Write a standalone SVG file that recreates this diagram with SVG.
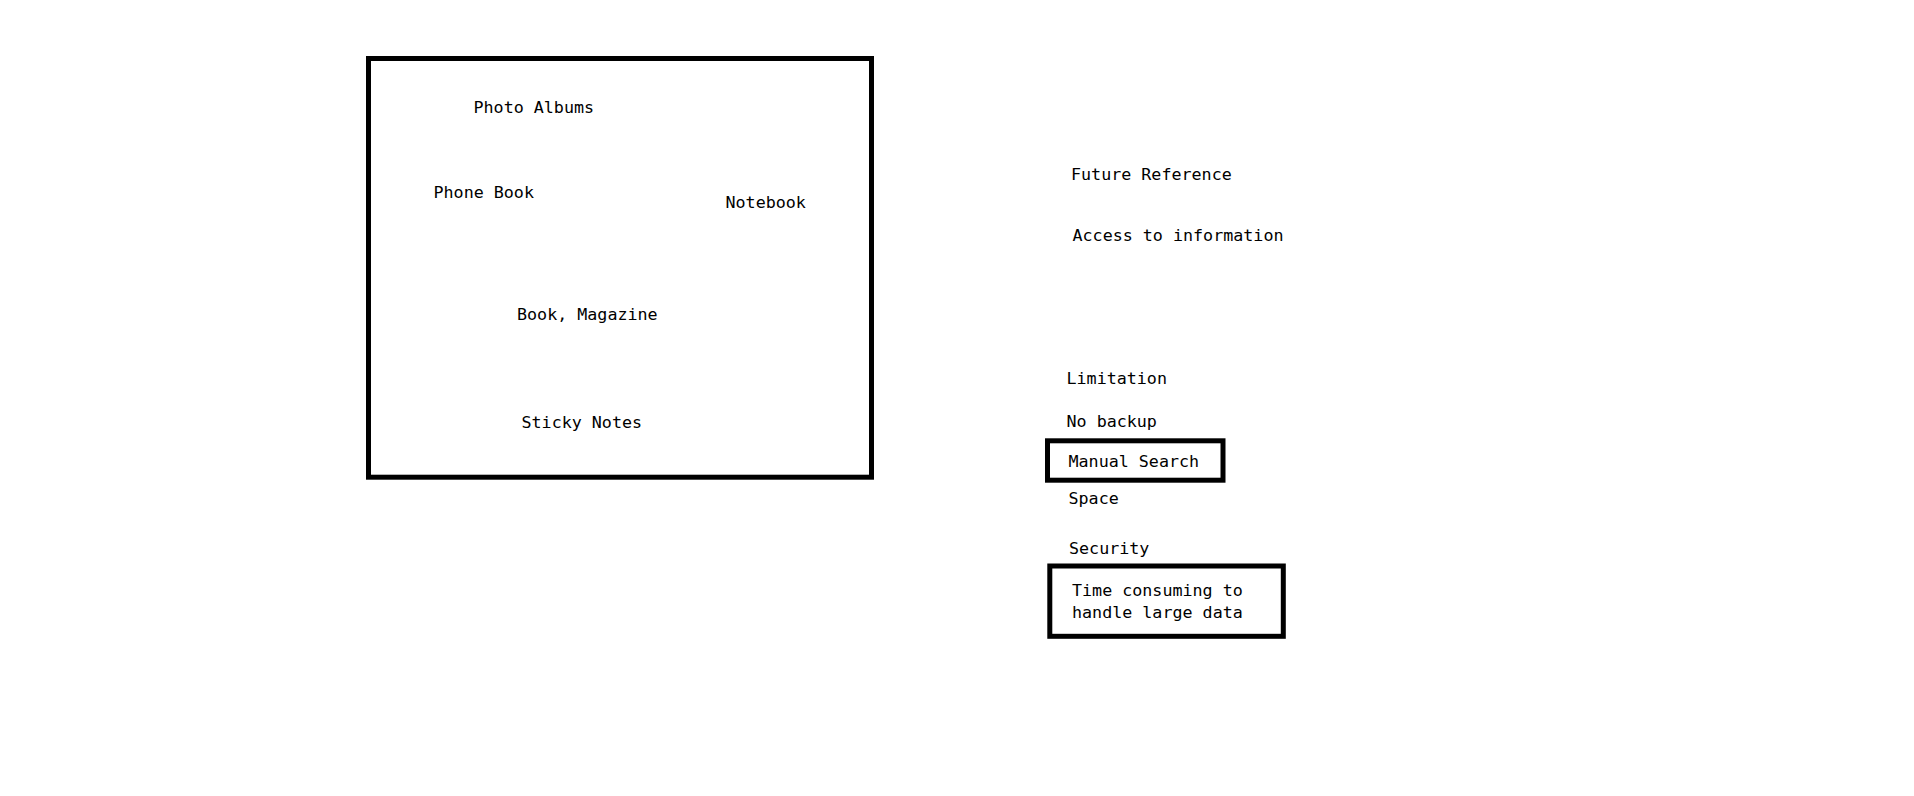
<svg xmlns="http://www.w3.org/2000/svg" width="1914" height="796" viewBox="0 0 1914 796">
<style>
  .t { font-family: "DejaVu Sans Mono", "Liberation Mono", monospace; font-size: 16.7px; fill: #000; }
  .box { fill: none; stroke: #000; stroke-width: 5; }
</style>
<rect width="1914" height="796" fill="#fff"/>
<g id="storage-group">
  <rect class="box" x="368.5" y="58.5" width="503" height="418.7"/>
</g>
<g id="photo-albums"><text class="t" x="473.5" y="113.3">Photo Albums</text></g>
<g id="phone-book"><text class="t" x="433.5" y="197.7">Phone Book</text></g>
<g id="notebook"><text class="t" x="725.5" y="207.7">Notebook</text></g>
<g id="book-magazine"><text class="t" x="517" y="320">Book, Magazine</text></g>
<g id="sticky-notes"><text class="t" x="521.5" y="428.3">Sticky Notes</text></g>
<g id="future-reference"><text class="t" x="1071" y="180">Future Reference</text></g>
<g id="access-information"><text class="t" x="1072.5" y="241">Access to information</text></g>
<g id="limitation"><text class="t" x="1066.5" y="384">Limitation</text></g>
<g id="no-backup"><text class="t" x="1066.5" y="427.3">No backup</text></g>
<g id="manual-search">
  <rect class="box" x="1047.5" y="440.8" width="175.5" height="39.4"/>
  <text class="t" x="1068.5" y="466.7">Manual Search</text>
</g>
<g id="space"><text class="t" x="1068.5" y="504">Space</text></g>
<g id="security"><text class="t" x="1069" y="554">Security</text></g>
<g id="time-consuming">
  <rect class="box" x="1049.8" y="566" width="233.5" height="70.3"/>
  <text class="t" x="1072" y="596">Time consuming to</text>
  <text class="t" x="1072" y="617.7">handle large data</text>
</g>
</svg>
